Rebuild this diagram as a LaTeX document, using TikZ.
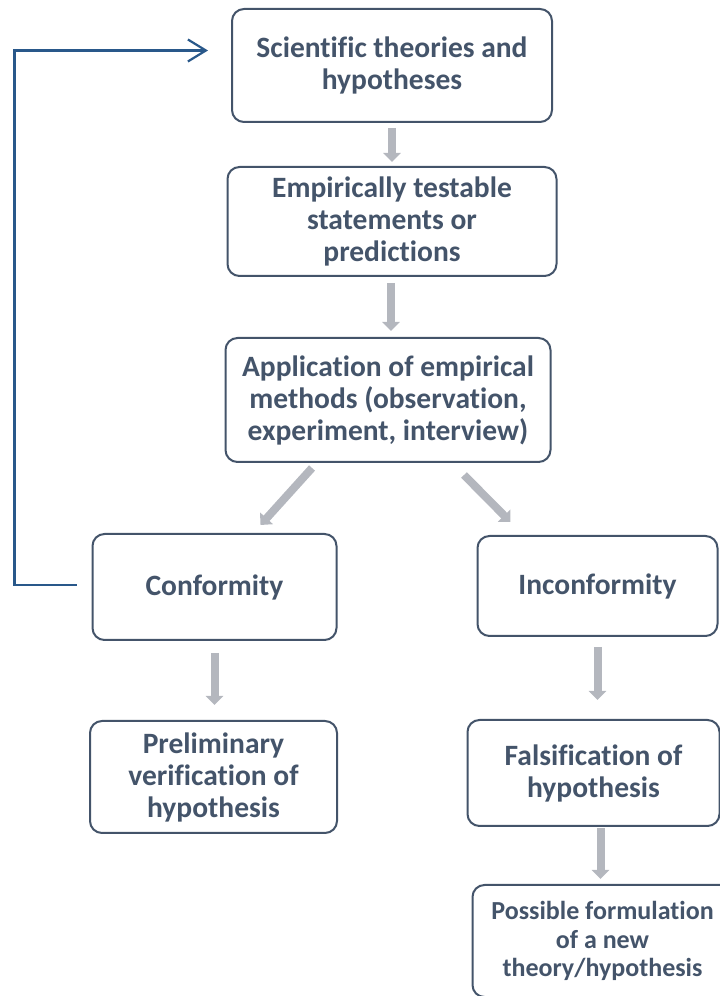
\documentclass[tikz,border=0pt]{standalone}
\usepackage{fontspec}
\setmainfont[Ligatures=NoCommon]{Carlito}
\usepackage{tikz}
\usetikzlibrary{arrows.meta}
\usetikzlibrary{positioning}
\definecolor{slate}{RGB}{68,84,106}
\definecolor{arrgray}{RGB}{180,183,190}
\definecolor{backblue}{RGB}{41,88,138}
\tikzstyle{rblock} = [rectangle, draw=slate, line width=2pt, text=slate, outer sep=0pt,
    font=\bfseries\fontsize{29.5}{32}\selectfont, align=center, rounded corners=12pt]
\tikzstyle{gline} = [draw=arrgray, line width=8pt, -{Triangle[width=17pt,length=9pt]}]
\tikzstyle{bline} = [draw=backblue, line width=2.2pt, -{Straight Barb[length=18pt,width=22pt,line width=2.2pt]}]

\begin{document}
\begin{tikzpicture}[x=1pt, y=1pt]
	\useasboundingbox (0,0) rectangle (720,996);
	\clip (0,0) rectangle (720,996);
	\node [rblock, minimum width=320pt, minimum height=113pt] at (392,930.5) (theo) {Scientific theories and\\hypotheses};
	\node [rblock, below=45pt of theo, minimum width=329pt, minimum height=109pt] (pred) {Empirically testable\\statements or\\predictions};
	\node [rblock, below=62pt of pred, xshift=-4pt, minimum width=325pt, minimum height=124pt] (meth) {Application of empirical\\methods (observation,\\experiment, interview)};
	\node [rblock, below=72pt of meth, xshift=-173.5pt, minimum width=244pt, minimum height=106pt] (conf) {Conformity};
	\node [rblock, below=74pt of meth, xshift=209.5pt, minimum width=240pt, minimum height=100pt] (inconf) {Inconformity};
	\node [rblock, below=81pt of conf, xshift=-1pt, minimum width=247pt, minimum height=112pt] (verif) {Preliminary\\verification of\\hypothesis};
	\node [rblock, below=84pt of inconf, xshift=-4pt, minimum width=252pt, minimum height=106pt] (fals) {Falsification of\\hypothesis};
	\node [rblock, below=59pt of fals, xshift=9pt, minimum width=260pt, minimum height=112pt,
	       font=\bfseries\fontsize{26}{28.5}\selectfont] (newth) {Possible formulation\\of a new\\theory/hypothesis};

	\path [gline, shorten <=6pt, shorten >=5pt] (theo.south) -- (theo.south |- pred.north);
	\path [gline, shorten <=7pt, shorten >=7pt] ([xshift=-1pt]pred.south) -- ([xshift=-1pt]pred.south |- meth.north);
	\path [gline] ([xshift=-76pt,yshift=-6pt]meth.south) -- ([xshift=46pt,yshift=9pt]conf.north);
	\path [gline] ([xshift=76pt,yshift=-13pt]meth.south) -- ([xshift=-87pt,yshift=14pt]inconf.north);
	\path [gline, shorten <=13pt, shorten >=16pt] (conf.south) -- (conf.south |- verif.north);
	\path [gline, shorten <=11pt, shorten >=20pt] (inconf.south) -- (inconf.south |- fals.north);
	\path [gline, shorten <=2pt, shorten >=6pt] ([xshift=-2pt]newth.north |- fals.south) -- ([xshift=-2pt]newth.north);
	% back to the theories
	\path [bline] ([xshift=-16pt,yshift=2pt]conf.west) -- ++(-62pt,0) |- ([xshift=-24pt,yshift=15pt]theo.west);
\end{tikzpicture}
\end{document}
